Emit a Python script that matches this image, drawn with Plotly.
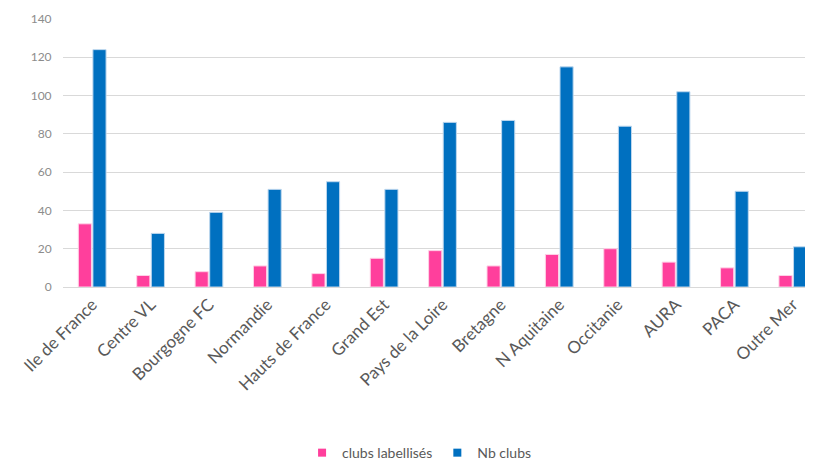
import plotly.graph_objects as go

regions = ["Ile de France", "Centre VL", "Bourgogne FC", "Normandie", "Hauts de France",
           "Grand Est", "Pays de la Loire", "Bretagne", "N Aquitaine", "Occitanie",
           "AURA", "PACA", "Outre Mer"]
clubs_labellises = [33, 6, 8, 11, 7, 15, 19, 11, 17, 20, 13, 10, 6]
nb_clubs = [124, 28, 39, 51, 55, 51, 86, 87, 115, 84, 102, 50, 21]
series_names = ["clubs labellisés", "Nb clubs"]
colors = ["#FF3F9C", "#0070C0"]
edge_colors = ["#FFD0E6", "#BDD7EE"]

fig = go.Figure()
for name, vals, c, ec in zip(series_names, [clubs_labellises, nb_clubs], colors, edge_colors):
    fig.add_trace(go.Bar(x=regions, y=vals, name=name, showlegend=False,
                         marker=dict(color=c, line=dict(color=ec, width=1))))
for name, c in zip(series_names, colors):
    fig.add_trace(go.Scatter(x=[None], y=[None], mode="markers", name=name,
                             marker=dict(symbol="square", size=8, color=c)))

fig.update_layout(
    width=814, height=456,
    margin=dict(l=55, r=0, t=11, b=177, autoexpand=False),
    plot_bgcolor="white", paper_bgcolor="white",
    barmode="group", bargap=0.5, bargroupgap=0.1,
    font=dict(family="Lato", color="#595959"),
    legend=dict(orientation="h", x=0.505, xanchor="center", xref="container",
                yref="container", y=0.024, yanchor="middle",
                font=dict(size=14, color="#595959"), itemwidth=30,
                tracegroupgap=0),
    showlegend=True,
)
fig.update_yaxes(range=[0, 140], dtick=20, showgrid=True, gridcolor="#D9D9D9", gridwidth=1,
                 zeroline=False, tickfont=dict(size=12, color="#8C8C8C"), ticks="outside",
                 ticklen=8, tickcolor="rgba(0,0,0,0)", showline=False, automargin=False)
fig.update_xaxes(tickangle=-45, tickfont=dict(size=17, color="#595959"),
                 showline=True, linecolor="#D9D9D9", ticks="", automargin=False)

fig.write_html("out.html")
